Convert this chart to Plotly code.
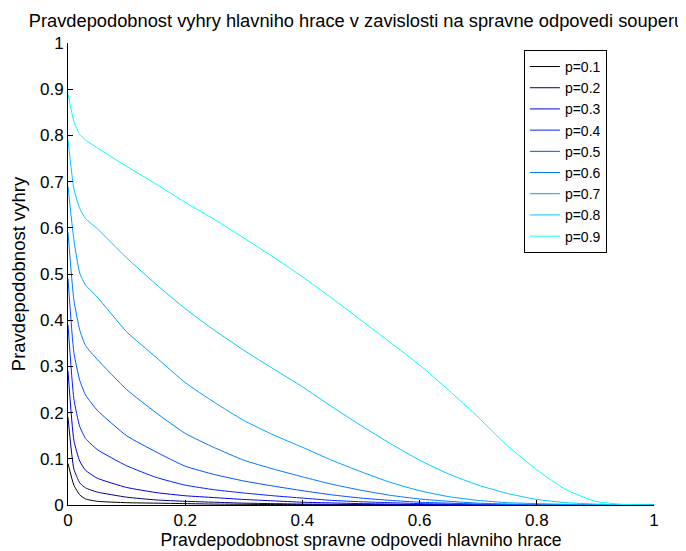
import plotly.graph_objects as go

# x: probability of correct answer of main player
x_vals = [0, 0.01, 0.02, 0.03, 0.05, 0.1, 0.15, 0.2, 0.25, 0.3, 0.35, 0.4, 0.45, 0.5, 0.55,
          0.6, 0.65, 0.7, 0.75, 0.8, 0.85, 0.9, 0.95, 1.0]

p_labels = ["p=0.1", "p=0.2", "p=0.3", "p=0.4", "p=0.5", "p=0.6", "p=0.7", "p=0.8", "p=0.9"]

y_p01 = [0.090, 0.043, 0.022, 0.013, 0.008, 0.005, 0.004, 0.003, 0.002, 0.0015, 0.001, 0.0008, 0.0005, 0.0003,
         0.0002, 0.0001, 0, 0, 0, 0, 0, 0, 0, 0]
y_p02 = [0.190, 0.078, 0.048, 0.037, 0.028, 0.017, 0.011, 0.008, 0.006, 0.004, 0.003, 0.002, 0.0015, 0.001,
         0.0007, 0.0005, 0.0003, 0.0002, 0.0001, 0, 0, 0, 0, 0]
y_p03 = [0.290, 0.140, 0.095, 0.075, 0.058, 0.038, 0.027, 0.020, 0.016, 0.012, 0.009, 0.006, 0.0045, 0.003,
         0.002, 0.001, 0.0007, 0.0005, 0.0003, 0.0002, 0, 0, 0, 0]
y_p04 = [0.390, 0.230, 0.170, 0.144, 0.120, 0.085, 0.060, 0.043, 0.033, 0.026, 0.020, 0.015, 0.010, 0.007,
         0.005, 0.003, 0.002, 0.0012, 0.0008, 0.0005, 0.0002, 0, 0, 0]
y_p05 = [0.490, 0.330, 0.270, 0.238, 0.205, 0.150, 0.115, 0.084, 0.066, 0.052, 0.041, 0.031, 0.022, 0.015,
         0.010, 0.006, 0.004, 0.002, 0.0012, 0.0008, 0.0003, 0.0001, 0, 0]
y_p06 = [0.590, 0.444, 0.379, 0.345, 0.315, 0.250, 0.200, 0.155, 0.124, 0.097, 0.078, 0.061, 0.045, 0.032,
         0.021, 0.013, 0.008, 0.004, 0.002, 0.001, 0.0005, 0.0002, 0, 0]
y_p07 = [0.690, 0.574, 0.502, 0.476, 0.450, 0.375, 0.320, 0.265, 0.222, 0.183, 0.152, 0.125, 0.097, 0.072,
         0.049, 0.031, 0.018, 0.010, 0.005, 0.003, 0.0015, 0.0005, 0.0001, 0]
y_p08 = [0.790, 0.685, 0.642, 0.620, 0.598, 0.535, 0.478, 0.425, 0.378, 0.335, 0.295, 0.256, 0.213, 0.172,
         0.133, 0.097, 0.067, 0.043, 0.025, 0.012, 0.005, 0.002, 0.0003, 0]
y_p09 = [0.890, 0.830, 0.802, 0.790, 0.773, 0.733, 0.695, 0.655, 0.618, 0.578, 0.537, 0.494, 0.448, 0.400,
         0.352, 0.303, 0.248, 0.190, 0.128, 0.076, 0.033, 0.008, 0.001, 0]

series = [y_p01, y_p02, y_p03, y_p04, y_p05, y_p06, y_p07, y_p08, y_p09]
colors = ["#000000", "#00007f", "#0000e0", "#0022ff", "#0050ff", "#0078ff", "#00a0ff", "#00ccff", "#00ffff"]

font_family = "Liberation Sans, Arial, Helvetica, sans-serif"

fig = go.Figure()
for lab, ys, col in zip(p_labels, series, colors):
    fig.add_trace(go.Scatter(x=x_vals, y=ys, mode="lines", name=lab,
                             line=dict(color=col, width=1, shape="spline", smoothing=0.5)))

# the page body has an 8px offset, so the figure is 8px smaller than the window
fig.update_layout(
    width=678, height=543,
    margin=dict(l=59.5, r=32, t=35, b=46, autoexpand=False),
    paper_bgcolor="white", plot_bgcolor="white",
    font=dict(family=font_family, size=17, color="black"),
    title=dict(text="Pravdepodobnost vyhry hlavniho hrace v zavislosti na spravne odpovedi souperu",
               x=0.514, xanchor="center", y=0.976, yanchor="middle",
               font=dict(size=18.3, family=font_family)),
    showlegend=True,
    legend=dict(x=0.778, y=0.985, xanchor="left", yanchor="top",
                bgcolor="white", bordercolor="black", borderwidth=1,
                font=dict(size=14), tracegroupgap=0),
)
fig.update_xaxes(range=[0, 1], tickvals=[0, 0.2, 0.4, 0.6, 0.8, 1],
                 ticktext=["0", "0.2", "0.4", "0.6", "0.8", "1"],
                 ticks="inside", ticklen=5, tickcolor="black",
                 showline=True, linecolor="black", linewidth=1,
                 showgrid=False, zeroline=False, automargin=False,
                 tickfont=dict(size=17),
                 title=dict(text="Pravdepodobnost spravne odpovedi hlavniho hrace", standoff=4,
                            font=dict(size=17.6)))
fig.update_yaxes(range=[0, 1], tickvals=[0, 0.1, 0.2, 0.3, 0.4, 0.5, 0.6, 0.7, 0.8, 0.9, 1],
                 ticktext=["0", "0.1", "0.2", "0.3", "0.4", "0.5", "0.6", "0.7", "0.8", "0.9", "1"],
                 ticks="inside", ticklen=5, tickcolor="black",
                 showline=True, linecolor="black", linewidth=1,
                 showgrid=False, zeroline=False, automargin=False,
                 tickfont=dict(size=17),
                 title=dict(text="Pravdepodobnost vyhry", standoff=11, font=dict(size=18.5)))

fig.write_html("out.html")
